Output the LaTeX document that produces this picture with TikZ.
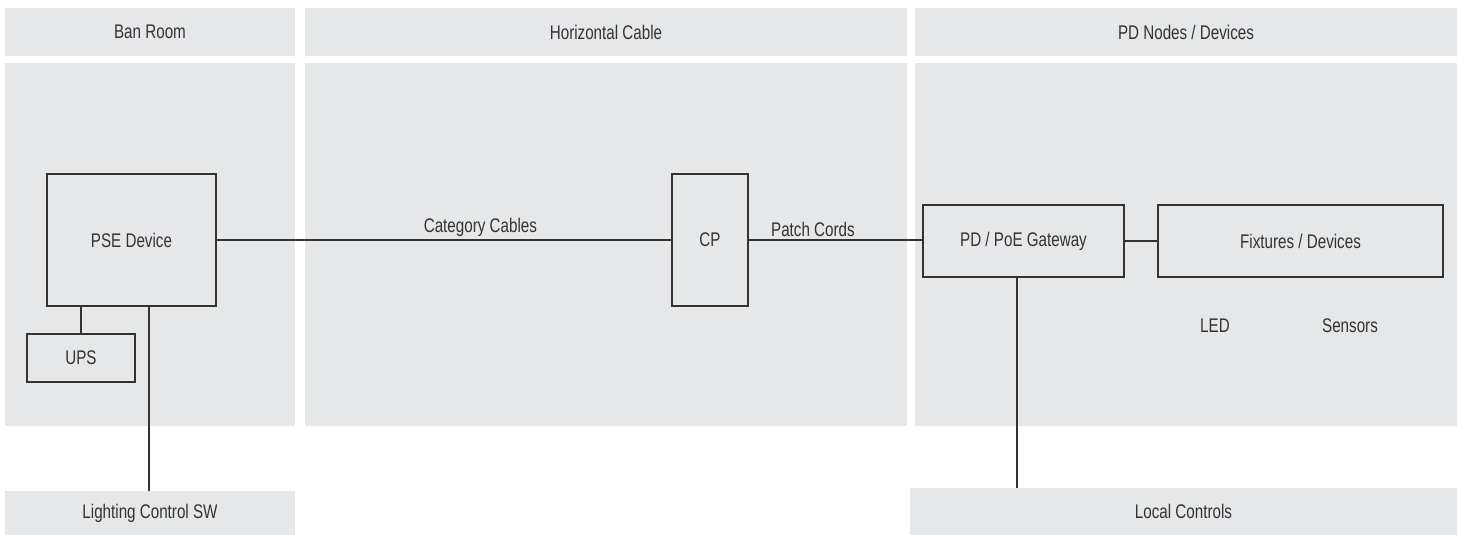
\documentclass[tikz,border=0pt]{standalone}
\usepackage{fontspec}
\setmainfont{Liberation Sans}[FakeStretch=0.77]
\usetikzlibrary{positioning,calc}
\definecolor{zone}{HTML}{E6E7E9}
\definecolor{ink}{HTML}{333333}
\tikzset{
  band/.style={rectangle,fill=zone,draw=none,inner sep=0pt,text=ink,font=\fontsize{14.8}{17}\selectfont},
  unit/.style={rectangle,draw=ink,line width=1pt,fill=zone,inner sep=0pt,align=center,text=ink,font=\fontsize{14.8}{17}\selectfont},
  tag/.style={text=ink,font=\fontsize{14.8}{17}\selectfont,inner sep=2pt},
  wire/.style={ink,line width=1pt}
}
\begin{document}
\begin{tikzpicture}[x=0.75pt,y=-0.75pt]
  \useasboundingbox (0,0) rectangle (1457,535);
  % headers and zones
  \node[band,minimum width=217.5pt,minimum height=36pt] (hban) at (150,32) {Ban Room};
  \node[band,minimum width=451.5pt,minimum height=36pt] (hcab) at (606,32) {Horizontal Cable};
  \node[band,minimum width=406.5pt,minimum height=36pt] (hpd) at (1186,32) {PD Nodes / Devices};
  \node[band,minimum width=217.5pt,minimum height=272.25pt] (zban) at (150,244.5) {};
  \node[band,minimum width=451.5pt,minimum height=272.25pt] (zcab) at (606,244.5) {};
  \node[band,minimum width=406.5pt,minimum height=272.25pt] (zpd) at (1186,244.5) {};
  \node[band,minimum width=217.5pt,minimum height=33pt] (lcsw) at (150,513) {Lighting Control SW};
  \node[band,minimum width=410.25pt,minimum height=35.25pt] (lctl) at (1183.5,511.5) {Local Controls};
  % equipment
  \node[unit,minimum width=126.75pt,minimum height=99pt] (pse) at (131.5,240) {PSE Device};
  \node[unit,minimum width=81pt,minimum height=36pt] (ups) at (81,358) {UPS};
  \node[unit,minimum width=57pt,minimum height=99pt] (cp) at (710,240) {CP};
  \node[unit,minimum width=150.75pt,minimum height=54pt] (gw) at (1023.5,241) {PD / PoE Gateway};
  \node[unit,minimum width=213.75pt,minimum height=54pt] (fix) at (1300.5,241) {Fixtures / Devices};
  \node[tag] (led) at (1215,326) {LED};
  \node[tag] (sens) at (1350,326) {Sensors};
  % links
  \draw[wire] (pse) -- node[tag,above,pos=0.58] (catc) {Category Cables} (cp);
  \draw[wire] (cp) -- node[tag,above,pos=0.37] (patc) {Patch Cords} (cp -| gw.west);
  \draw[wire] (gw) -- (fix);
  \draw[wire] (ups.north) -- (ups.north |- pse.south);
  \draw[wire] ($(pse.south west)!0.6036!(pse.south east)$) coordinate (psed) -- (psed |- lcsw.north);
  \draw[wire] ([xshift=-5pt]gw.south) coordinate (gwd) -- (gwd |- lctl.north);
\end{tikzpicture}
\end{document}
